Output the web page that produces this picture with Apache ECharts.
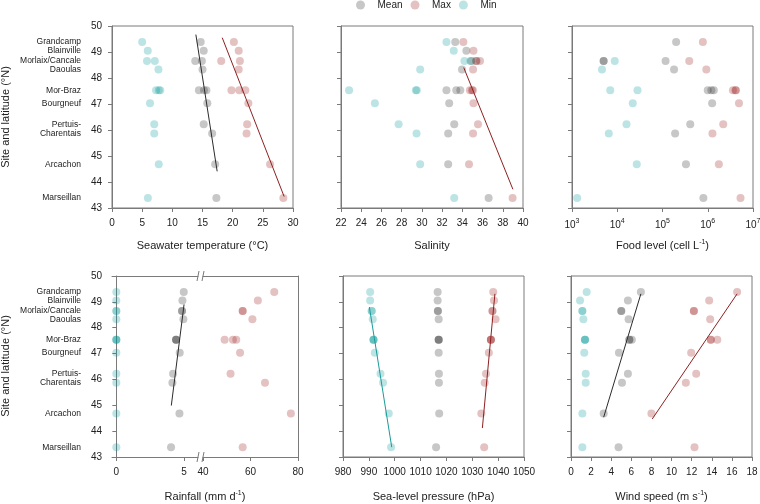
<!DOCTYPE html>
<html><head><meta charset="utf-8">
<script src="https://cdn.jsdelivr.net/npm/echarts@6/dist/echarts.min.js"></script>
<style>html,body{margin:0;padding:0;background:#fff}#c{width:760px;height:504px}</style>
</head><body><div id="c"></div><script>
// ---- sites (rows) ----
const siteNames = ['Grandcamp','Blainville','Morlaix/Cancale','Daoulas','Mor-Braz','Bourgneuf','Pertuis-','Charentais','Arcachon','Marseillan'];
const siteLats  = [49.38, 49.05, 48.65, 48.33, 47.53, 47.03, 46.22, 45.87, 44.68, 43.38];

// ---- data: [value, row index] ----
const tempMin  = [[5.0,0],[5.93,1],[5.8,2],[7.1,2],[7.7,3],[7.3,4],[7.75,4],[8.0,4],[6.3,5],[7.0,6],[7.0,7],[7.75,8],[5.95,9]];
const tempMean = [[14.7,0],[15.2,1],[13.8,2],[14.9,2],[15.0,3],[14.4,4],[15.25,4],[15.65,4],[15.8,5],[15.2,6],[16.6,7],[17.1,8],[17.3,9]];
const tempMax  = [[20.2,0],[21.0,1],[18.1,2],[21.2,2],[21.0,3],[19.8,4],[21.1,4],[22.1,4],[22.6,5],[22.4,6],[22.3,7],[26.2,8],[28.4,9]];
const tempMeanFit = [[13.9,49.67],[17.43,44.41]];
const tempMaxFit  = [[18.27,49.55],[28.53,43.44]];

const salMin  = [[32.43,0],[33.15,1],[34.2,2],[34.8,2],[29.83,3],[22.8,4],[29.4,4],[29.5,4],[25.35,5],[27.7,6],[29.47,7],[29.83,8],[33.2,9]];
const salMean = [[33.3,0],[34.4,1],[34.9,2],[35.4,2],[33.97,3],[32.43,4],[33.4,4],[33.8,4],[32.7,5],[33.2,6],[32.6,7],[32.6,8],[36.6,9]];
const salMax  = [[34.1,0],[35.1,1],[35.35,2],[35.75,2],[35.06,3],[34.75,4],[34.95,4],[35.05,4],[35.1,5],[35.55,6],[35.06,7],[34.66,8],[38.97,9]];
const salMaxFit = [[34.14,48.40],[39.0,43.72]];

const foodMin  = [[8.8e3,2],[4.6e3,3],[7.0e3,4],[2.8e4,4],[2.2e4,5],[1.6e4,6],[6.5e3,7],[2.7e4,8],[1.3e3,9]];
const foodMean = [[2.0e5,0],[5.0e3,2],[5.0e3,2],[1.17e5,2],[1.8e5,3],[1.0e6,4],[1.2e6,4],[1.36e6,4],[1.25e6,5],[4.1e5,6],[1.9e5,7],[3.3e5,8],[8.0e5,9]];
const foodMax  = [[7.8e5,0],[3.9e5,2],[9.3e5,3],[3.6e6,4],[4.1e6,4],[4.2e6,4],[4.9e6,5],[2.2e6,6],[1.27e6,7],[1.76e6,8],[5.3e6,9]];

const rainMin  = [[0,0],[0,1],[0,2],[0,2],[0,3],[0,4],[0,4],[0,4],[0,5],[0,6],[0,7],[0,8],[0,9]];
const rainMean = [[4.98,0],[4.88,1],[4.85,2],[4.85,2],[4.95,3],[4.41,4],[4.41,4],[4.41,4],[4.68,5],[4.19,6],[4.14,7],[4.66,8],[4.04,9]];
const rainMax  = [[70.0,0],[63.1,1],[56.7,2],[56.7,2],[60.8,3],[49.1,4],[52.6,4],[54.0,4],[55.6,5],[51.6,6],[66.1,7],[77.0,8],[56.7,9]];
const rainMeanFit = [[5.0,48.9],[4.06,44.99]];

const slpMin  = [[990.5,0],[990.5,1],[991.1,2],[991.1,2],[991.5,3],[991.8,4],[991.8,4],[991.8,4],[992.3,5],[994.5,6],[995.5,7],[997.7,8],[998.6,9]];
const slpMean = [[1016.6,0],[1016.6,1],[1016.7,2],[1016.7,2],[1017.0,3],[1017.0,4],[1017.0,4],[1017.0,4],[1017.0,5],[1017.1,6],[1017.1,7],[1017.2,8],[1016.0,9]];
const slpMax  = [[1038.1,0],[1038.4,1],[1037.8,2],[1037.8,2],[1039.0,3],[1037.2,4],[1037.2,4],[1037.2,4],[1036.4,5],[1035.3,6],[1034.8,7],[1033.5,8],[1034.6,9]];
const slpMinFit = [[990.2,48.8],[998.85,43.38]];
const slpMaxFit = [[1038.75,49.31],[1033.9,44.12]];

const windMin  = [[1.56,0],[0.9,1],[1.13,2],[1.13,2],[1.23,3],[1.39,4],[1.39,4],[1.39,4],[1.32,5],[1.46,6],[1.46,7],[1.13,8],[1.13,9]];
const windMean = [[6.95,0],[5.66,1],[5.0,2],[5.0,2],[5.73,3],[5.8,4],[5.8,4],[6.05,4],[4.77,5],[5.66,6],[5.07,7],[3.25,8],[4.73,9]];
const windMax  = [[16.52,0],[13.74,1],[12.22,2],[12.22,2],[13.84,3],[13.9,4],[13.9,4],[14.55,4],[11.95,5],[12.45,6],[11.42,7],[8.0,8],[12.28,9]];
const windMeanFit = [[6.95,49.31],[3.25,44.54]];
const windMaxFit  = [[16.52,49.31],[8.08,44.47]];

// ---- styling ----
const FONT = "'Liberation Sans', Arial, Helvetica, sans-serif";
const AX = '#7a7a7a', TXT = '#222';
const meanCol = 'rgba(40,40,40,0.32)', maxCol = 'rgba(150,20,20,0.32)', minCol = 'rgba(0,150,150,0.32)';
const meanLine = '#2b2b2b', maxLine = '#8e2020', minLine = '#1a9a9a';
const pts = arr => arr.map(d => [d[0], siteLats[d[1]]]);
// label order chosen so that the first/last labels are not adjacent rows (avoids auto-hiding)
const siteLabelValues = [8,0,1,2,3,4,5,6,7,9].map(i => siteLats[i]);

const grids = [
  {left:112, top:26, width:181, height:182, show:true},
  {left:341, top:26, width:182, height:182, show:true},
  {left:572, top:26, width:181, height:182, show:true},
  {left:112, top:276, width:86, height:181, show:false},
  {left:203, top:276, width:95, height:181, show:false},
  {left:343, top:276, width:181, height:181, show:true},
  {left:571, top:276, width:181, height:181, show:true}
].map(g => Object.assign(g, {borderColor:AX, borderWidth:1, backgroundColor:'transparent', containLabel:false, outerBoundsMode:'none'}));

const line = (show) => ({show, lineStyle:{color:AX, width:1}});
const tick = (show) => ({show, inside:false, length:4, lineStyle:{color:AX, width:1}});
const lab = {fontSize:10, color:TXT, fontFamily:FONT, margin:10, formatter: v => String(v), showMinLabel:true, showMaxLabel:true};
const nameStyle = {fontSize:11, color:TXT, fontFamily:FONT, lineHeight:14,
  rich:{sup:{fontSize:7, color:TXT, fontFamily:FONT, verticalAlign:'top', lineHeight:9}}};

function xA(gi, o) {
  return Object.assign({gridIndex:gi, type:'value', position:'bottom', axisLine:line(true), axisTick:tick(true),
    axisLabel:Object.assign({}, lab), splitLine:{show:false}, nameLocation:'middle', nameGap:gi < 3 ? 31 : 33,
    nameTextStyle:nameStyle}, o);
}
function yA(gi, o) {
  return Object.assign({gridIndex:gi, type:'value', min:43, max:50, interval:1, position:'left',
    axisLine:line(true), axisTick:tick(true), axisLabel:Object.assign({}, lab, {show:false}), splitLine:{show:false}}, o);
}
const siteAxis = gi => ({gridIndex:gi, type:'value', min:43, max:50, position:'left',
  axisLine:{show:false}, axisTick:{show:false}, splitLine:{show:false},
  axisLabel:{show:true, customValues:siteLabelValues, margin:31, fontSize:8.5, lineHeight:7, color:TXT, fontFamily:FONT,
    showMinLabel:true, showMaxLabel:true, hideOverlap:false,
    formatter: v => { let b=0; siteLats.forEach((l,i)=>{ if (Math.abs(l-v) < Math.abs(siteLats[b]-v)) b=i; }); return siteNames[b]; }}});

const xAxis = [
  xA(0, {min:0, max:30, interval:5, name:'Seawater temperature (°C)'}),
  xA(1, {min:22, max:40, interval:2, name:'Salinity'}),
  xA(2, {type:'log', logBase:10, min:1e3, max:1e7, name:'Food level (cell L{sup|-1})',
    axisLabel:Object.assign({}, lab, {lineHeight:14, formatter: v => '10{s|' + Math.round(Math.log10(v)) + '}',
      rich:{s:{fontSize:7, color:TXT, fontFamily:FONT, verticalAlign:'top', lineHeight:9}}})}),
  xA(3, {min:-0.32, max:6.03, axisLabel:Object.assign({}, lab, {customValues:[0,5]}), axisTick:Object.assign(tick(true), {customValues:[0,5]})}),
  xA(4, {min:40, max:80, interval:20}),
  xA(5, {min:980, max:1050, interval:10, name:'Sea-level pressure (hPa)'}),
  xA(6, {min:0, max:18, interval:2, name:'Wind speed (m s{sup|-1})'}),
  xA(3, {min:-0.32, max:6.03, position:'top', axisTick:{show:false}, axisLabel:{show:false}}),
  xA(4, {min:40, max:80, position:'top', axisTick:{show:false}, axisLabel:{show:false}})
];
const yAxis = [
  yA(0, {axisLabel:Object.assign({}, lab, {show:true})}),
  yA(1), yA(2),
  yA(3, {axisLabel:Object.assign({}, lab, {show:true})}),
  yA(4, {position:'right', axisTick:{show:false}}),
  yA(5), yA(6),
  siteAxis(0), siteAxis(3)
];

const series = [];
function sc(name, data, xi, yi, col) {
  series.push({type:'scatter', name, data:pts(data), xAxisIndex:xi, yAxisIndex:yi, symbol:'circle', symbolSize:8,
    itemStyle:{color:col, borderWidth:0}, silent:true, z:2, emphasis:{disabled:true}});
}
function fit(data, xi, yi, col) {
  series.push({type:'line', name:'fit', data, xAxisIndex:xi, yAxisIndex:yi, symbol:'none',
    lineStyle:{color:col, width:1}, silent:true, z:3, animation:false});
}
sc('Mean', tempMean, 0, 0, meanCol); sc('Max', tempMax, 0, 0, maxCol); sc('Min', tempMin, 0, 0, minCol);
fit(tempMeanFit, 0, 0, meanLine); fit(tempMaxFit, 0, 0, maxLine);
sc('Mean', salMean, 1, 1, meanCol); sc('Max', salMax, 1, 1, maxCol); sc('Min', salMin, 1, 1, minCol);
fit(salMaxFit, 1, 1, maxLine);
sc('Mean', foodMean, 2, 2, meanCol); sc('Max', foodMax, 2, 2, maxCol); sc('Min', foodMin, 2, 2, minCol);
sc('Mean', rainMean, 3, 3, meanCol); sc('Min', rainMin, 3, 3, minCol); sc('Max', rainMax, 4, 4, maxCol);
fit(rainMeanFit, 3, 3, meanLine);
sc('Mean', slpMean, 5, 5, meanCol); sc('Max', slpMax, 5, 5, maxCol); sc('Min', slpMin, 5, 5, minCol);
fit(slpMinFit, 5, 5, minLine); fit(slpMaxFit, 5, 5, maxLine);
sc('Mean', windMean, 6, 6, meanCol); sc('Max', windMax, 6, 6, maxCol); sc('Min', windMin, 6, 6, minCol);
fit(windMeanFit, 6, 6, meanLine); fit(windMaxFit, 6, 6, maxLine);

// axis decorations: break marks on rainfall axis, and shared titles
const brk = [];
[276, 457].forEach(y => [198, 203].forEach(x => brk.push({type:'line', silent:true,
  shape:{x1:x-1, y1:y+5, x2:x+1, y2:y-5}, style:{stroke:AX, lineWidth:1}})));
const yTitle = y => ({type:'text', x:6, y, rotation:Math.PI/2, silent:true,
  style:{text:'Site and latitude (°N)', fontSize:11, fill:TXT, fontFamily:FONT, textAlign:'center', textVerticalAlign:'middle'}});

const chart = echarts.init(document.getElementById('c'), null, {renderer:'canvas'});
chart.setOption({
  animation:false,
  backgroundColor:'#fff',
  textStyle:{fontFamily:FONT},
  legend:{data:['Mean','Max','Min'], left:356, top:0, itemWidth:24, itemHeight:9, itemGap:8, icon:'circle',
    selectedMode:false, textStyle:{fontSize:10, color:TXT, fontFamily:FONT}, padding:0},
  grid:grids, xAxis, yAxis, series,
  graphic:[
    ...brk,
    yTitle(117), yTitle(366),
    {type:'text', x:205, y:490, silent:true, style:{text:'Rainfall (mm d{sup|-1})', fontSize:11, fill:TXT, fontFamily:FONT,
      textAlign:'center', textVerticalAlign:'top', lineHeight:14,
      rich:{sup:{fontSize:7, fill:TXT, fontFamily:FONT, verticalAlign:'top', lineHeight:9}}}}
  ]
});
</script></body></html>
